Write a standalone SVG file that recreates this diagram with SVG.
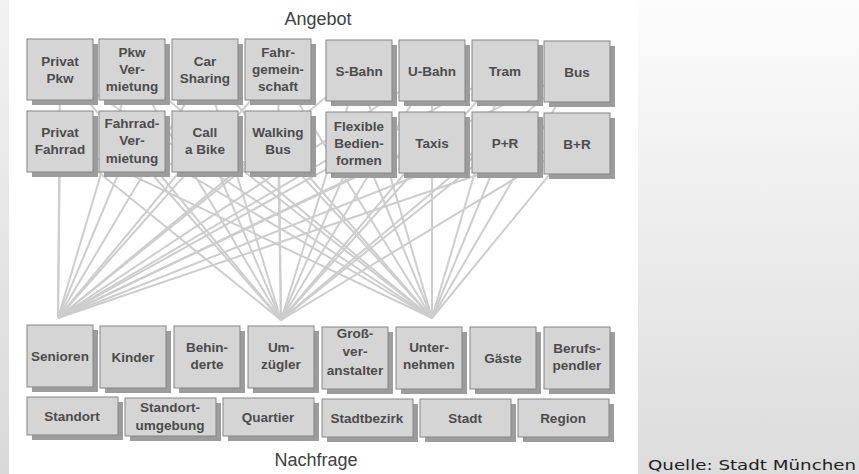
<svg xmlns="http://www.w3.org/2000/svg" width="859" height="474" viewBox="0 0 859 474">
<defs>
<linearGradient id="gl" x1="0" y1="0" x2="0" y2="1"><stop offset="0" stop-color="#f2f2f2"/><stop offset="1" stop-color="#d9d9d9"/></linearGradient>
<linearGradient id="gr" x1="0" y1="0" x2="0" y2="1"><stop offset="0" stop-color="#fcfcfc"/><stop offset="1" stop-color="#dcdcdc"/></linearGradient>
<style>
.sh{fill:#9c9c9c}
.bx{fill:#d5d5d5;stroke:#858585;stroke-width:1}
.t{font-family:"Liberation Sans",Arial,sans-serif;font-weight:bold;font-size:13.5px;fill:#4c4c4c;text-anchor:middle}
.h{font-family:"Liberation Sans",Arial,sans-serif;font-size:18px;fill:#404040;text-anchor:middle}
.q{font-family:"DejaVu Sans","Open Sans",sans-serif;font-size:14px;fill:#222}
#connectors line{stroke:#cdcdcd;stroke-width:2}
</style>
</defs>
<rect x="0" y="0" width="9" height="474" fill="url(#gl)"/>
<rect x="9" y="0" width="629" height="474" fill="#ffffff"/>
<rect x="638" y="0" width="221" height="474" fill="url(#gr)"/>
<text class="h" x="318" y="25">Angebot</text>
<text class="h" x="316" y="466">Nachfrage</text>
<text class="q" x="648" y="470" textLength="208" lengthAdjust="spacingAndGlyphs">Quelle: Stadt München</text>

<g id="connectors">
<line x1="58" y1="318" x2="60" y2="70"/><line x1="58" y1="318" x2="132" y2="70"/><line x1="58" y1="318" x2="205" y2="70"/><line x1="58" y1="318" x2="278" y2="70"/>
<line x1="58" y1="318" x2="359" y2="70"/><line x1="58" y1="318" x2="432" y2="70"/><line x1="58" y1="318" x2="505" y2="70"/><line x1="58" y1="318" x2="577" y2="70"/>
<line x1="58" y1="318" x2="60" y2="141"/><line x1="58" y1="318" x2="132" y2="141"/><line x1="58" y1="318" x2="205" y2="141"/><line x1="58" y1="318" x2="278" y2="141"/>
<line x1="58" y1="318" x2="359" y2="141"/><line x1="58" y1="318" x2="432" y2="141"/><line x1="58" y1="318" x2="505" y2="141"/><line x1="58" y1="318" x2="577" y2="141"/>
<line x1="281" y1="320" x2="60" y2="70"/><line x1="281" y1="320" x2="132" y2="70"/><line x1="281" y1="320" x2="205" y2="70"/><line x1="281" y1="320" x2="278" y2="70"/>
<line x1="281" y1="320" x2="359" y2="70"/><line x1="281" y1="320" x2="432" y2="70"/><line x1="281" y1="320" x2="505" y2="70"/><line x1="281" y1="320" x2="577" y2="70"/>
<line x1="281" y1="320" x2="60" y2="141"/><line x1="281" y1="320" x2="132" y2="141"/><line x1="281" y1="320" x2="205" y2="141"/><line x1="281" y1="320" x2="278" y2="141"/>
<line x1="281" y1="320" x2="359" y2="141"/><line x1="281" y1="320" x2="432" y2="141"/><line x1="281" y1="320" x2="505" y2="141"/><line x1="281" y1="320" x2="577" y2="141"/>
<line x1="432" y1="318" x2="60" y2="70"/><line x1="432" y1="318" x2="132" y2="70"/><line x1="432" y1="318" x2="205" y2="70"/><line x1="432" y1="318" x2="278" y2="70"/>
<line x1="432" y1="318" x2="359" y2="70"/><line x1="432" y1="318" x2="432" y2="70"/><line x1="432" y1="318" x2="505" y2="70"/><line x1="432" y1="318" x2="577" y2="70"/>
<line x1="432" y1="318" x2="60" y2="141"/><line x1="432" y1="318" x2="132" y2="141"/><line x1="432" y1="318" x2="205" y2="141"/><line x1="432" y1="318" x2="278" y2="141"/>
<line x1="432" y1="318" x2="359" y2="141"/><line x1="432" y1="318" x2="432" y2="141"/><line x1="432" y1="318" x2="505" y2="141"/><line x1="432" y1="318" x2="577" y2="141"/>
</g>

<!-- Angebot row 1 -->
<g id="privat-pkw"><rect class="sh" x="32" y="44" width="66" height="61"/><rect class="bx" x="27" y="39" width="66" height="61"/><text class="t" x="60" y="66">Privat</text><text class="t" x="60" y="83">Pkw</text></g>
<g id="pkw-vermietung"><rect class="sh" x="104" y="44" width="66" height="61"/><rect class="bx" x="99" y="39" width="66" height="61"/><text class="t" x="132" y="57">Pkw</text><text class="t" x="132" y="74">Ver-</text><text class="t" x="132" y="91">mietung</text></g>
<g id="car-sharing"><rect class="sh" x="177" y="44" width="66" height="61"/><rect class="bx" x="172" y="39" width="66" height="61"/><text class="t" x="205" y="66">Car</text><text class="t" x="205" y="83">Sharing</text></g>
<g id="fahrgemeinschaft"><rect class="sh" x="250" y="44" width="66" height="61"/><rect class="bx" x="245" y="39" width="66" height="61"/><text class="t" x="278" y="57">Fahr-</text><text class="t" x="278" y="74">gemein-</text><text class="t" x="278" y="91">schaft</text></g>
<g id="s-bahn"><rect class="sh" x="331" y="45" width="66" height="61"/><rect class="bx" x="326" y="40" width="66" height="61"/><text class="t" x="359" y="76">S-Bahn</text></g>
<g id="u-bahn"><rect class="sh" x="404" y="45" width="66" height="61"/><rect class="bx" x="399" y="40" width="66" height="61"/><text class="t" x="432" y="76">U-Bahn</text></g>
<g id="tram"><rect class="sh" x="477" y="45" width="66" height="61"/><rect class="bx" x="472" y="40" width="66" height="61"/><text class="t" x="505" y="76">Tram</text></g>
<g id="bus"><rect class="sh" x="549" y="46" width="66" height="61"/><rect class="bx" x="544" y="41" width="66" height="61"/><text class="t" x="577" y="77">Bus</text></g>

<!-- Angebot row 2 -->
<g id="privat-fahrrad"><rect class="sh" x="32" y="116" width="66" height="61"/><rect class="bx" x="27" y="111" width="66" height="61"/><text class="t" x="60" y="137">Privat</text><text class="t" x="60" y="154">Fahrrad</text></g>
<g id="fahrrad-vermietung"><rect class="sh" x="104" y="116" width="66" height="61"/><rect class="bx" x="99" y="111" width="66" height="61"/><text class="t" x="132" y="128">Fahrrad-</text><text class="t" x="132" y="145">Ver-</text><text class="t" x="132" y="163">mietung</text></g>
<g id="call-a-bike"><rect class="sh" x="177" y="116" width="66" height="61"/><rect class="bx" x="172" y="111" width="66" height="61"/><text class="t" x="205" y="137">Call</text><text class="t" x="205" y="154">a Bike</text></g>
<g id="walking-bus"><rect class="sh" x="250" y="116" width="66" height="61"/><rect class="bx" x="245" y="111" width="66" height="61"/><text class="t" x="278" y="137">Walking</text><text class="t" x="278" y="154">Bus</text></g>
<g id="flexible-bedienformen"><rect class="sh" x="331" y="117" width="66" height="61"/><rect class="bx" x="326" y="112" width="66" height="61"/><text class="t" x="359" y="131">Flexible</text><text class="t" x="359" y="148">Bedien-</text><text class="t" x="359" y="165">formen</text></g>
<g id="taxis"><rect class="sh" x="404" y="117" width="66" height="61"/><rect class="bx" x="399" y="112" width="66" height="61"/><text class="t" x="432" y="148">Taxis</text></g>
<g id="p-r"><rect class="sh" x="477" y="117" width="66" height="61"/><rect class="bx" x="472" y="112" width="66" height="61"/><text class="t" x="505" y="148">P+R</text></g>
<g id="b-r"><rect class="sh" x="549" y="118" width="66" height="61"/><rect class="bx" x="544" y="113" width="66" height="61"/><text class="t" x="577" y="149">B+R</text></g>

<!-- Nachfrage row 1 -->
<g id="senioren"><rect class="sh" x="32" y="330" width="66" height="62"/><rect class="bx" x="27" y="325" width="66" height="62"/><text class="t" x="60" y="361">Senioren</text></g>
<g id="kinder"><rect class="sh" x="105" y="331" width="66" height="62"/><rect class="bx" x="100" y="326" width="66" height="62"/><text class="t" x="133" y="362">Kinder</text></g>
<g id="behinderte"><rect class="sh" x="179" y="331" width="66" height="62"/><rect class="bx" x="174" y="326" width="66" height="62"/><text class="t" x="207" y="352">Behin-</text><text class="t" x="207" y="369">derte</text></g>
<g id="umzuegler"><rect class="sh" x="253" y="331" width="66" height="62"/><rect class="bx" x="248" y="326" width="66" height="62"/><text class="t" x="281" y="352">Um-</text><text class="t" x="281" y="369">zügler</text></g>
<g id="grossveranstalter"><rect class="sh" x="327" y="332" width="66" height="62"/><rect class="bx" x="322" y="327" width="66" height="62"/><text class="t" x="355" y="338">Groß-</text><text class="t" x="355" y="356">ver-</text><text class="t" x="355" y="375">anstalter</text></g>
<g id="unternehmen"><rect class="sh" x="401" y="332" width="66" height="62"/><rect class="bx" x="396" y="327" width="66" height="62"/><text class="t" x="429" y="352">Unter-</text><text class="t" x="429" y="369">nehmen</text></g>
<g id="gaeste"><rect class="sh" x="475" y="332" width="66" height="62"/><rect class="bx" x="470" y="327" width="66" height="62"/><text class="t" x="503" y="363">Gäste</text></g>
<g id="berufspendler"><rect class="sh" x="549" y="332" width="66" height="62"/><rect class="bx" x="544" y="327" width="66" height="62"/><text class="t" x="577" y="353">Berufs-</text><text class="t" x="577" y="370">pendler</text></g>

<!-- Nachfrage row 2 -->
<g id="standort"><rect class="sh" x="32" y="402" width="91" height="38"/><rect class="bx" x="27" y="397" width="91" height="38"/><text class="t" x="72" y="421">Standort</text></g>
<g id="standortumgebung"><rect class="sh" x="130" y="403" width="91" height="38"/><rect class="bx" x="125" y="398" width="91" height="38"/><text class="t" x="170" y="412">Standort-</text><text class="t" x="170" y="430">umgebung</text></g>
<g id="quartier"><rect class="sh" x="228" y="403" width="91" height="38"/><rect class="bx" x="223" y="398" width="91" height="38"/><text class="t" x="268" y="422">Quartier</text></g>
<g id="stadtbezirk"><rect class="sh" x="327" y="404" width="91" height="38"/><rect class="bx" x="322" y="399" width="91" height="38"/><text class="t" x="367" y="423">Stadtbezirk</text></g>
<g id="stadt"><rect class="sh" x="425" y="404" width="91" height="38"/><rect class="bx" x="420" y="399" width="91" height="38"/><text class="t" x="465" y="423">Stadt</text></g>
<g id="region"><rect class="sh" x="523" y="404" width="91" height="38"/><rect class="bx" x="518" y="399" width="91" height="38"/><text class="t" x="563" y="423">Region</text></g>
</svg>
